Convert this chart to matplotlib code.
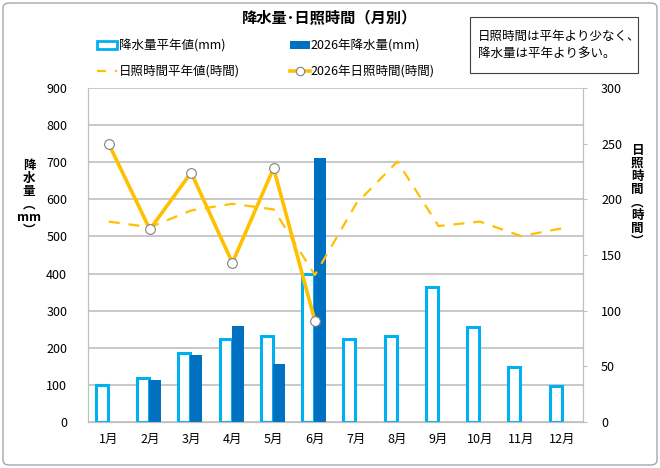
import matplotlib
matplotlib.use('Agg')
import matplotlib.pyplot as plt
from matplotlib.patches import Patch, Rectangle, FancyBboxPatch
from matplotlib.lines import Line2D
import numpy as np

plt.rcParams['font.family'] = ['Noto Sans CJK JP', 'DejaVu Sans']

# ========= data ==========================================
months = ['1月', '2月', '3月', '4月', '5月', '6月', '7月', '8月', '9月', '10月', '11月', '12月']
rain_normal = [100, 118, 185, 223, 233, 400, 224, 232, 364, 256, 148, 97]
rain_2026 = [None, 112, 181, 260, 155, 712, None, None, None, None, None, None]
sun_normal = [180, 175, 190, 196, 191, 132, 196, 234, 176, 180, 167, 174]
sun_2026 = [250, 173, 224, 143, 228, 91]

# 色
c_light = '#00B0F0'
c_dark = '#0070C0'
c_sun = '#FFC000'
c_grid = '#BFBFBF'

fig = plt.figure(figsize=(6.6, 4.68), dpi=100)
ax = fig.add_axes([88/660, 1-422/468, (583-88)/660, (422-88)/468])
ax2 = ax.twinx()

x = np.arange(len(months))
w = 0.29

# 降水量 (bars)
ax.bar(x - w/2 - 0.02, rain_normal, width=w, facecolor='white', edgecolor=c_light, linewidth=2.2, zorder=2)
x_r = [xi for xi, v in zip(x, rain_2026) if v is not None]
v_r = [v for v in rain_2026 if v is not None]
ax.bar(np.array(x_r) + w/2 - 0.02, v_r, width=w, color=c_dark, zorder=3)

ax.set_ylim(0, 900)
ax.set_yticks(range(0, 901, 100))
ax.set_xlim(-0.5, 11.5)
ax.set_xticks(x)
ax.set_xticklabels(months)
ax.yaxis.grid(True, color=c_grid, linewidth=1.2)
ax.set_axisbelow(True)
ax.tick_params(axis='x', length=0, pad=8, labelsize=9)
ax.tick_params(axis='y', length=0, pad=15, labelsize=9)

# 日照時間 (lines)
ax2.plot(x, sun_normal, color=c_sun, linewidth=1.6, dashes=(5, 4), zorder=4)
ax2.plot(x[:len(sun_2026)], sun_2026, color=c_sun, linewidth=2.6, marker='o', markersize=7,
         markerfacecolor='white', markeredgecolor='#808080', markeredgewidth=0.8, zorder=5)
ax2.set_ylim(0, 300)
ax2.set_yticks(range(0, 301, 50))
ax2.tick_params(axis='y', length=3, color=c_grid, pad=10, labelsize=9)

for a in (ax, ax2):
    a.spines['top'].set_visible(False)
    a.spines['left'].set_color(c_grid)
    a.spines['right'].set_color(c_grid)
    a.spines['bottom'].set_color(c_grid)
ax.set_zorder(ax2.get_zorder() - 1)
ax.patch.set_visible(True)
ax2.patch.set_visible(False)

# 軸ラベル (縦書き)
fig.text(29/660, 1-198/468, '降\n水\n量\n︵\nmm\n︶', ha='center', va='center',
         fontsize=9, fontweight='bold', linespacing=1.0)
fig.text(637/660, 1-196/468, '日\n照\n時\n間\n︵\n時\n間\n︶', ha='center', va='center',
         fontsize=9, fontweight='bold', linespacing=1.0)

# タイトル
fig.text(330/660, 1-18/468, '降水量･日照時間（月別）', ha='center', va='center',
         fontsize=11, fontweight='bold')

# 凡例
handles = [
    Patch(facecolor='white', edgecolor=c_light, linewidth=2),
    Line2D([], [], color=c_sun, linewidth=1.6, dashes=(4, 4)),
    Patch(facecolor=c_dark),
    Line2D([], [], color=c_sun, linewidth=2.6, marker='o', markersize=6,
           markerfacecolor='white', markeredgecolor='#808080', markeredgewidth=0.8),
]
labels = ['降水量平年値(mm)', '日照時間平年値(時間)', '2026年降水量(mm)', '2026年日照時間(時間)']
fig.legend(handles, labels, ncol=2, loc='center', bbox_to_anchor=(266/660, 1-59/468),
           frameon=False, fontsize=9, handlelength=1.6, handletextpad=0.1,
           columnspacing=4.0, labelspacing=1.05)

# 注記ボックス
fig.patches.append(Rectangle((470/660, 1-73/468), 168/660, 56/468, transform=fig.transFigure,
                             facecolor='white', edgecolor='#404040', linewidth=0.8))
fig.text(478/660, 1-45/468, '日照時間は平年より少なく、\n降水量は平年より多い。', ha='left', va='center',
         fontsize=9, linespacing=1.5)

# 外枠
fig.patches.append(FancyBboxPatch((3/660, 3/468), 654/660, 462/468, transform=fig.transFigure,
                                  boxstyle='round,pad=0,rounding_size=0.01',
                                  facecolor='none', edgecolor='#A6A6A6', linewidth=1))

fig.savefig('out.png', dpi=100)
